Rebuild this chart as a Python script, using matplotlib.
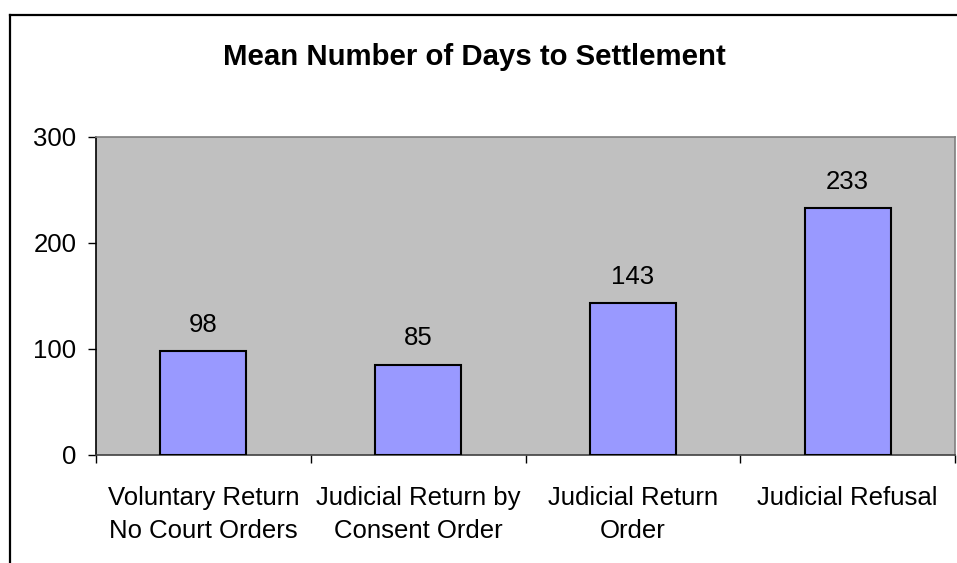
import matplotlib.pyplot as plt
from matplotlib.lines import Line2D
import numpy as np

plt.rcParams['font.family'] = ['Liberation Sans', 'DejaVu Sans']

categories = ['Voluntary Return\nNo Court Orders', 'Judicial Return by\nConsent Order',
              'Judicial Return\nOrder', 'Judicial Refusal']
values = [98, 85, 143, 233]
y_ticks = [0, 100, 200, 300]

fig = plt.figure(figsize=(9.57, 5.63), dpi=100)
ax = fig.add_axes([96 / 957, 1 - 455 / 563, (955 - 96) / 957, (455 - 137) / 563])
ax.set_facecolor('#C0C0C0')

x = np.arange(len(values))
ax.bar(x, values, width=0.4, color='#9999FF', edgecolor='black', linewidth=1.5, zorder=3)

for xi, v in zip(x, values):
    ax.annotate(str(v), (xi, v), xytext=(0, 14), textcoords='offset points',
                ha='center', va='baseline', fontsize=18.5)

ax.set_xlim(-0.5, len(values) - 0.5)
ax.set_ylim(0, 300)
ax.set_yticks(y_ticks)
ax.tick_params(axis='y', labelsize=18.5, length=6, width=1, pad=8, direction='out')

# labels at centres, tick marks at category boundaries
ax.set_xticks(x)
ax.set_xticklabels(categories, fontsize=18.5, linespacing=1.45)
ax.set_xticks(np.arange(-0.5, len(values), 1.0), minor=True)
ax.tick_params(axis='x', which='major', length=0, pad=22.5)
ax.tick_params(axis='x', which='minor', length=6, width=1, direction='out')

ax.spines['left'].set_color('black')
ax.spines['bottom'].set_color('#404040')
ax.spines['top'].set_color('#808080')
ax.spines['right'].set_color('#808080')
for s in ax.spines.values():
    s.set_linewidth(1.2)

fig.text(474.5 / 957, 1 - 65 / 563, 'Mean Number of Days to Settlement',
         ha='center', va='baseline', fontsize=21.2, fontweight='bold')

# chart border (left and top visible)
bx, by = 10 / 957, 1 - 15 / 563
fig.add_artist(Line2D([bx, bx], [0, by], transform=fig.transFigure, color='black', lw=1.6))
fig.add_artist(Line2D([bx, 1], [by, by], transform=fig.transFigure, color='black', lw=1.6))

fig.savefig('out.png', dpi=100)
